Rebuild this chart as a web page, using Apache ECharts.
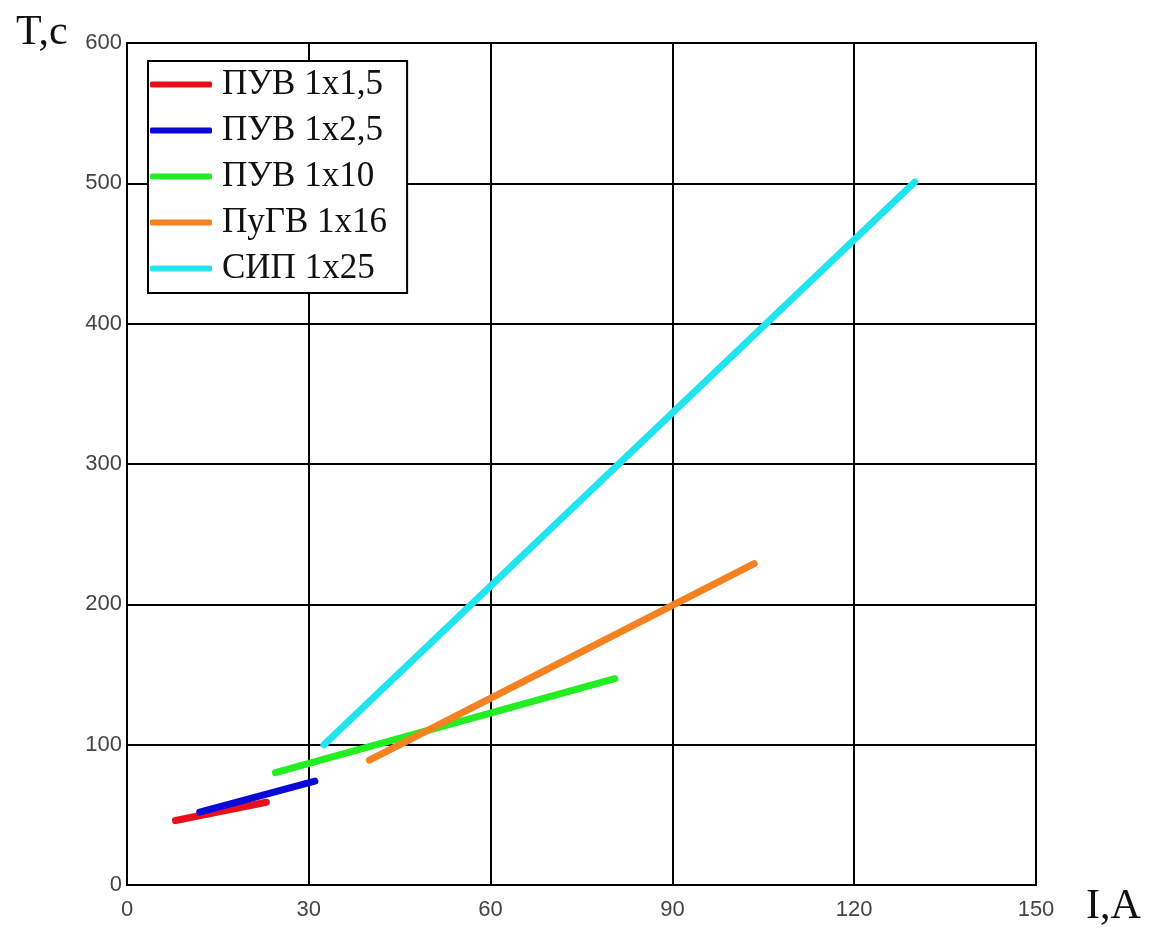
<!DOCTYPE html>
<html><head><meta charset="utf-8">
<script src="https://cdn.jsdelivr.net/npm/echarts@6/dist/echarts.min.js"></script>
<style>html,body{margin:0;padding:0;background:#fff}#c{width:1160px;height:931px}</style>
</head><body><div id="c"></div>
<script>
const seriesNames = ['ПУВ 1x1,5','ПУВ 1x2,5','ПУВ 1x10','ПуГВ 1x16','СИП 1x25'];
const colors = ['#e8101a','#0a0ad8','#22ee22','#f58220','#22e4f0'];
const red = [[8,46],[23,59]];
const blue = [[12,52],[31,74]];
const green = [[24.5,80],[80.5,147]];
const orange = [[40,89],[103.5,229]];
const cyan = [[32.5,100],[130,501]];
const xTicks = [0,30,60,90,120,150];
const yTicks = [0,100,200,300,400,500,600];
const allData = [red, blue, green, orange, cyan];

const chart = echarts.init(document.getElementById('c'));
chart.setOption({
  animation:false,
  backgroundColor:'#fff',
  grid:{left:127,right:124,top:43,bottom:46,show:true,borderColor:'#000',borderWidth:2,backgroundColor:'transparent'},
  xAxis:{type:'value',min:0,max:150,interval:30,
    axisLine:{show:false},axisTick:{show:false},
    splitLine:{show:true,lineStyle:{color:'#000',width:2}},
    axisLabel:{color:'#444',fontFamily:'Liberation Sans, Arial, sans-serif',fontSize:22,margin:14,
      formatter:v=>xTicks.includes(v)?String(v):''}
  },
  yAxis:{type:'value',min:0,max:600,interval:100,
    axisLine:{show:false},axisTick:{show:false},
    splitLine:{show:true,lineStyle:{color:'#000',width:2}},
    axisLabel:{color:'#444',fontFamily:'Liberation Sans, Arial, sans-serif',fontSize:22,margin:5,
      formatter:v=>yTicks.includes(v)?String(v):''}
  },
  legend:{orient:'vertical',left:148,top:61,
    data:seriesNames,
    icon:'roundRect',itemWidth:62,itemHeight:6,itemGap:11,
    backgroundColor:'#fff',borderColor:'#000',borderWidth:2,
    padding:[6,20,7,2],
    textStyle:{fontFamily:'Liberation Serif, serif',fontSize:35,lineHeight:35,color:'#111',padding:[0,0,0,5]}
  },
  graphic:[
    {type:'text',left:16,top:12,style:{text:'T,c',font:'42px "Liberation Serif", serif',fill:'#111'}},
    {type:'text',left:1086,top:886,style:{text:'I,A',font:'42px "Liberation Serif", serif',fill:'#111'}}
  ],
  series: allData.map((d,i)=>({
    name:seriesNames[i],type:'line',data:d,showSymbol:false,
    lineStyle:{color:colors[i],width:7,cap:'round'},itemStyle:{color:colors[i]},z:3+i
  }))
});
</script></body></html>
